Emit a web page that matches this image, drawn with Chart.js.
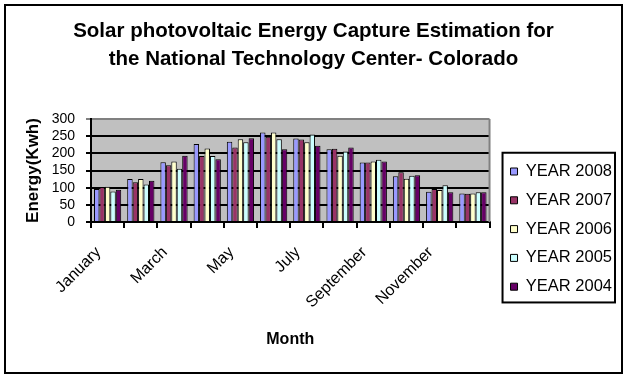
<!DOCTYPE html>
<html>
<head>
<meta charset="utf-8">
<script src="https://cdn.jsdelivr.net/npm/chart.js@4/dist/chart.umd.min.js"></script>
<style>
  body { margin: 0; background: #fff; }
  canvas { display: block; }
</style>
</head>
<body>
<canvas id="solar" width="627" height="377"></canvas>
<script>
// данные по месяцам (кВт·ч)
const months = ["January", "February", "March", "April", "May", "June",
  "July", "August", "September", "October", "November", "December"];
const year2008 = [96, 125, 174, 227, 234, 261, 243, 212, 173, 133, 88, 83];
const year2007 = [102, 116, 165, 192, 217, 248, 240, 213, 173, 145, 96, 82];
const year2006 = [103, 125, 176, 214, 241, 261, 232, 193, 176, 126, 93, 83];
const year2005 = [89, 109, 155, 192, 232, 241, 255, 205, 181, 135, 107, 87];
const year2004 = [94, 120, 193, 183, 244, 212, 222, 217, 176, 136, 87, 87];
const yTicks = [0, 50, 100, 150, 200, 250, 300];
const titleLines = ["Solar photovoltaic Energy Capture Estimation for",
  "the National Technology Center- Colorado"];

const FONT = "'Liberation Sans', Arial, sans-serif";

// сдвиг легенды: отступ от области графика и первая строка
const legendShift = {
  id: "legendShift",
  afterUpdate(chart) {
    const lg = chart.legend;
    if (!lg || !lg.legendHitBoxes.length) return;
    const hb = lg.legendHitBoxes;
    const dx = chart.chartArea.right + 21 - hb[0].left;
    const dy = 171.5 - (hb[0].top + hb[0].height / 2);
    lg.left += dx; lg.right += dx;
    lg.top += dy; lg.bottom += dy;
    hb.forEach(h => { h.left += dx; h.top += dy; });
  }
};

// фон, серая область графика, рамки и заголовок
const decor = {
  id: "decor",
  beforeDraw(chart) {
    const c = chart.ctx, a = chart.chartArea;
    c.save();
    c.fillStyle = "#fff";
    c.fillRect(0, 0, chart.width, chart.height);
    c.fillStyle = "#c0c0c0";
    c.fillRect(a.left, a.top, a.right - a.left, a.bottom - a.top);
    c.restore();
  },
  afterDraw(chart) {
    const c = chart.ctx, a = chart.chartArea;
    c.save();
    c.strokeStyle = "#808080";
    c.lineWidth = 2;
    c.beginPath();
    c.moveTo(a.right, a.top);
    c.lineTo(a.right, a.bottom);
    c.stroke();
    const lg = chart.legend;
    if (lg && lg.legendHitBoxes.length) {
      const hb = lg.legendHitBoxes;
      const last = hb[hb.length - 1];
      const l = hb[0].left - 8;
      const r = Math.max(...hb.map(h => h.left + h.width)) + 3;
      const t = hb[0].top - 10.5;
      const b = last.top + last.height + 7.5;
      c.strokeStyle = "#000";
      c.strokeRect(l, t, r - l, b - t);
    }
    c.strokeStyle = "#000";
    c.strokeRect(5, 5, chart.width - 10, chart.height - 9);
    c.fillStyle = "#000";
    c.font = "bold 20.5px " + FONT;
    c.textAlign = "center";
    c.textBaseline = "alphabetic";
    c.fillText(titleLines[0], chart.width / 2, 37);
    c.fillText(titleLines[1], chart.width / 2, 65);
    c.restore();
  }
};

function series(label, data, color) {
  return {
    label: label,
    data: data,
    backgroundColor: color,
    borderColor: "#000",
    borderWidth: 1,
    categoryPercentage: 0.82,
    barPercentage: 1.0
  };
}

const ctx = document.getElementById("solar").getContext("2d");
new Chart(ctx, {
  type: "bar",
  data: {
    labels: months,
    datasets: [
      series("YEAR 2008", year2008, "#9999ff"),
      series("YEAR 2007", year2007, "#993366"),
      series("YEAR 2006", year2006, "#ffffcc"),
      series("YEAR 2005", year2005, "#ccffff"),
      series("YEAR 2004", year2004, "#660066")
    ]
  },
  options: {
    responsive: false,
    animation: false,
    layout: { padding: { top: 119, bottom: 25, left: 10, right: 13.7 } },
    plugins: {
      tooltip: { enabled: false },
      title: { display: false },
      legend: {
        position: "right",
        labels: {
          color: "#000",
          font: { family: FONT, size: 16.5 },
          boxWidth: 7,
          boxHeight: 7,
          padding: 12.3
        }
      }
    },
    scales: {
      x: {
        afterFit: function (axis) { axis.height = 130; },
        grid: {
          offset: true,
          drawOnChartArea: false,
          color: "#000",
          lineWidth: 2,
          tickLength: 6
        },
        border: { color: "#000", width: 2 },
        ticks: {
          autoSkip: false,
          minRotation: 45,
          maxRotation: 45,
          padding: 15,
          labelOffset: -9,
          color: "#000",
          font: { family: FONT, size: 16 },
          callback: function (v, i) { return i % 2 === 0 ? months[i] : ""; }
        },
        title: {
          display: true,
          text: "Month",
          color: "#000",
          font: { family: FONT, size: 16, weight: "bold" },
          padding: { top: 16, bottom: 2.4 }
        }
      },
      y: {
        min: 0,
        max: 300,
        afterBuildTicks: function (axis) { axis.ticks = yTicks.map(v => ({ value: v })); },
        afterFit: function (axis) { axis.width = 81; },
        grid: {
          color: c => (c.tick && c.tick.value === 300 ? "#808080" : "#000"),
          lineWidth: 2,
          tickLength: 5
        },
        border: { color: "#000", width: 2 },
        ticks: {
          autoSkip: false,
          color: "#000",
          padding: 11,
          font: { family: FONT, size: 14 }
        },
        title: {
          display: true,
          text: "Energy(Kwh)",
          color: "#000",
          font: { family: FONT, size: 17, weight: "bold" },
          padding: { top: 12.8, bottom: 3 }
        }
      }
    }
  },
  plugins: [legendShift, decor]
});
</script>
</body>
</html>
